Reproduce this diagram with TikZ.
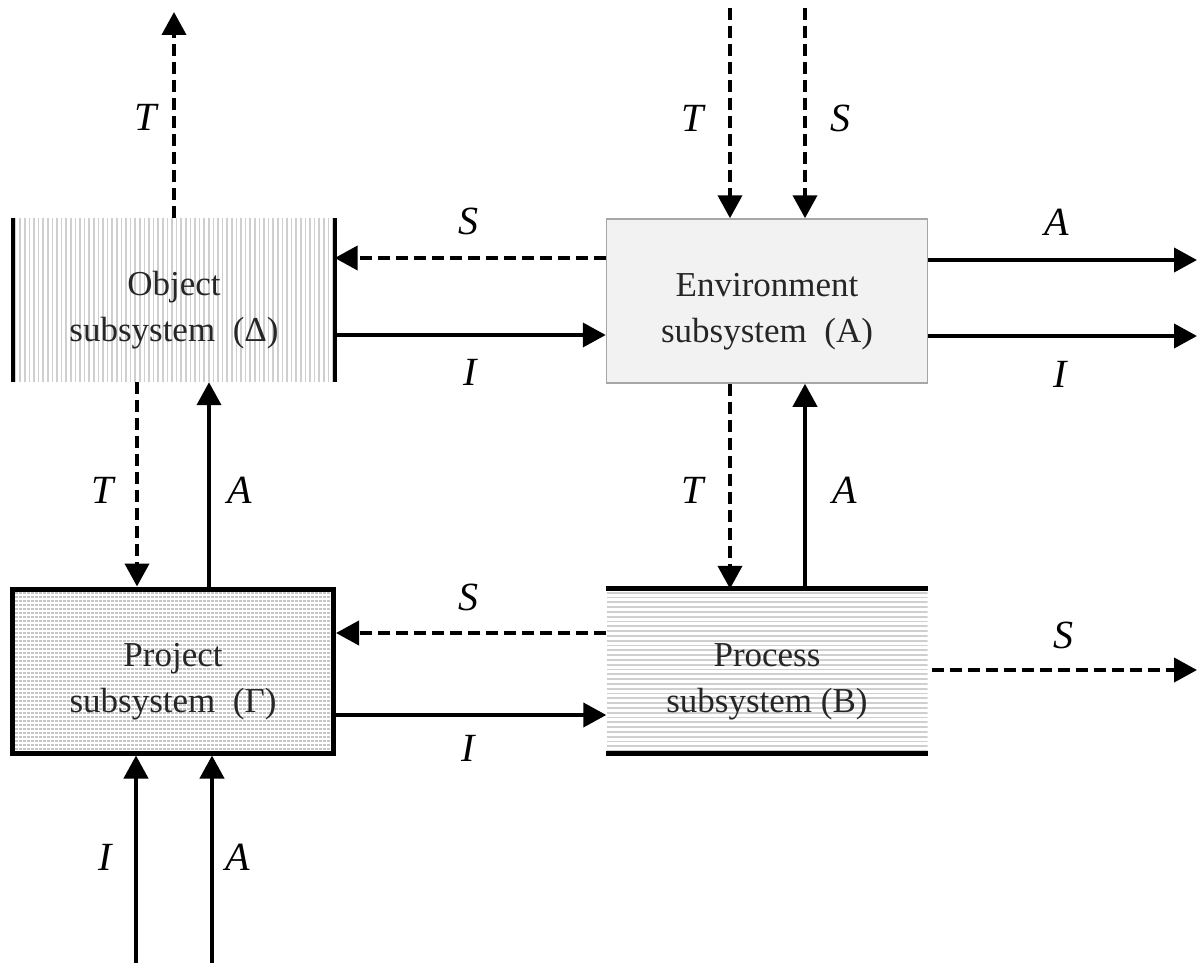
\documentclass[tikz,border=0pt]{standalone}
\usepackage{fontspec}
\setmainfont{Liberation Serif}
\usetikzlibrary{arrows.meta}
\newcommand{\topstrut}{\rule{0pt}{45pt}}
\begin{document}
\begin{tikzpicture}[x=1pt,y=-1pt,
  conn/.style={line width=4pt,-{Triangle[length=23pt,width=24pt]}},
  dsh/.style={conn,dash pattern=on 12pt off 6pt},
  lbl/.style={font=\fontsize{40}{40}\selectfont\itshape,inner sep=0pt},
  box/.style={minimum width=321pt,minimum height=164pt,inner sep=0pt,align=center,
    font=\fontsize{35}{46}\selectfont,text=black!85},
  vlines/.style={path picture={
    \foreach \i in {0,...,70}
      \draw[gray!38,line width=1.6pt] ([xshift=\i*4.6pt+2pt]path picture bounding box.south west) -- ([xshift=\i*4.6pt+2pt]path picture bounding box.north west);}},
  hlines/.style={path picture={
    \foreach \i in {0,...,40}
      \draw[gray!38,line width=1.8pt] ([yshift=\i*4.8pt+2pt]path picture bounding box.south west) -- ([yshift=\i*4.8pt+2pt]path picture bounding box.south east);}},
  grid/.style={fill=gray!45,path picture={
    \foreach \i in {0,...,80}
      \draw[white,line width=1.3pt] ([xshift=\i*4pt+2pt]path picture bounding box.south west) -- ([xshift=\i*4pt+2pt]path picture bounding box.north west);
    \foreach \i in {0,...,45}
      \draw[white,line width=1.3pt] ([yshift=\i*4pt+2pt]path picture bounding box.south west) -- ([yshift=\i*4pt+2pt]path picture bounding box.south east);}}
]
\useasboundingbox (0,0) rectangle (1197,963);

% boxes
\node[box,vlines] (obj) at (174,300) {\topstrut Object\\subsystem~~(Δ)};
\draw[line width=4pt] (obj.north west) -- (obj.south west);
\draw[line width=4pt] (obj.north east) -- (obj.south east);

\node[box,draw=gray!70,line width=1.5pt,fill=gray!10] (env) at (767,301) {\topstrut Environment\\subsystem~~(A)};

\node[box,grid,draw,line width=5pt] (prj) at (173,671) {\topstrut Project\\subsystem~~(Γ)};

\node[box,hlines] (prc) at (767,671) {\topstrut Process\\subsystem (B)};
\draw[line width=5pt] (prc.north west) -- (prc.north east);
\draw[line width=5pt] (prc.south west) -- (prc.south east);

% free ends
\coordinate (outT) at (174,12);
\coordinate (inT) at (730,8);
\coordinate (inS) at (805,8);
\coordinate (outA) at (1197,260);
\coordinate (outI) at (1197,336);
\coordinate (outS) at (1197,670);
\coordinate (inI) at (136,963);
\coordinate (inA) at (212,963);

% connectors
\draw[dsh] (obj.north) -- (outT);
\draw[dsh] ([yshift=43pt]env.west) -- ([yshift=43pt]env.west -| obj.east);
\draw[conn] ([yshift=-35pt]obj.east) -- ([yshift=-35pt]obj.east -| env.west);
\draw[dsh] (inT) -- (inT |- env.north);
\draw[dsh] (inS) -- (inS |- env.north);
\draw[conn] (env.east |- outA) -- (outA);
\draw[conn] (env.east |- outI) -- (outI);
\draw[dsh] ([xshift=-37pt]env.south) -- ([xshift=-37pt]env.south |- prc.north);
\draw[conn] ([xshift=38pt]prc.north) -- ([xshift=38pt]prc.north |- env.south);
\draw[dsh] ([xshift=-37pt]obj.south) -- ([xshift=-37pt]obj.south |- prj.north);
\draw[conn] ([xshift=36pt]prj.north) -- ([xshift=36pt]prj.north |- obj.south);
\draw[dsh] ([yshift=38pt]prc.west) -- ([yshift=38pt]prc.west -| prj.east);
\draw[conn] ([yshift=-44pt]prj.east) -- ([yshift=-44pt]prj.east -| prc.west);
\draw[dsh] ([xshift=4pt]prc.east |- outS) -- (outS);
\draw[conn] (inI) -- (inI |- prj.south);
\draw[conn] (inA) -- (inA |- prj.south);

% labels
\node[lbl] (l1) at (146,117) {T};
\node[lbl] (l2) at (468,221) {S};
\node[lbl] (l3) at (470,372) {I};
\node[lbl] (l4) at (693,118) {T};
\node[lbl] (l5) at (840,118) {S};
\node[lbl] (l6) at (1057,222) {A};
\node[lbl] (l7) at (1060,374) {I};
\node[lbl] (l8) at (693,490) {T};
\node[lbl] (l9) at (845,490) {A};
\node[lbl] (l10) at (103,490) {T};
\node[lbl] (l11) at (240,490) {A};
\node[lbl] (l12) at (468,597) {S};
\node[lbl] (l13) at (468,748) {I};
\node[lbl] (l14) at (1063,635) {S};
\node[lbl] (l15) at (105,857) {I};
\node[lbl] (l16) at (238,857) {A};
\end{tikzpicture}
\end{document}
